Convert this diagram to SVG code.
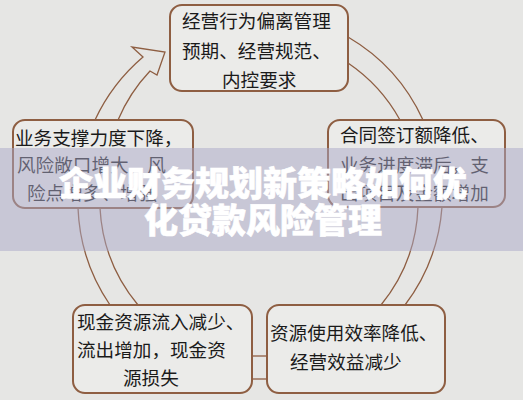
<svg xmlns="http://www.w3.org/2000/svg" width="523" height="400" viewBox="0 0 523 400">
<style>
.box{fill:#ebebe9;stroke:#8e5e42;stroke-width:2}
.t{font-family:"Noto Sans CJK SC","Noto Sans",sans-serif;font-size:18.6px;fill:#1a1a1a}
.c{fill:none;stroke:#8e5e42;stroke-width:1.3}
.title{font-family:"Noto Sans CJK SC","Noto Sans",sans-serif;font-size:34px;font-weight:900;fill:#ffffff;text-anchor:middle;stroke:#ffffff;stroke-width:0.6}
</style>
<rect x="0" y="0" width="523" height="400" fill="#e6e6e4"/>
<g id="connectors">
<path class="c" d="M95,120 A185,185 0 0 1 143,57 L132,47 L165,52 L157,75 L150,71 A165,165 0 0 0 118,120"/>
<path class="c" d="M348,37 A185,185 0 0 1 423,120"/>
<path class="c" d="M348,63 A165,165 0 0 1 400,120"/>
<path class="c" d="M442,207 A185,185 0 0 1 405,305"/>
<path class="c" d="M418,207 A165,165 0 0 1 381,305"/>
<path class="c" d="M252,356 L267,356"/>
<path class="c" d="M252,379 L267,379"/>
<path class="c" d="M110,305 A185,185 0 0 1 78,208"/>
<path class="c" d="M138,305 A165,165 0 0 1 100,208"/>
</g>
<g id="n_top">
<rect class="box" x="170" y="5" width="178" height="86" rx="12"/>
<text class="t" x="182" y="28">经营行为偏离管理</text>
<text class="t" x="182" y="58">预期、经营规范、</text>
<text class="t" x="222" y="87">内控要求</text>
</g>
<g id="n_left">
<rect class="box" x="13" y="120" width="180" height="88" rx="12"/>
<text class="t" x="15" y="145">业务支撑力度下降，</text>
<text class="t" x="17" y="172">风险敞口增大，风</text>
<text class="t" x="27" y="200">险点增多、增强</text>
</g>
<g id="n_right">
<rect class="box" x="328" y="120" width="177" height="87" rx="12"/>
<text class="t" x="340" y="142">合同签订额降低、</text>
<text class="t" x="340" y="172">业务进度滞后，支</text>
<text class="t" x="340" y="200">出项目及金额增加</text>
</g>
<g id="n_bottom_left">
<rect class="box" x="73" y="305" width="179" height="88" rx="12"/>
<text class="t" x="77" y="329">现金资源流入减少、</text>
<text class="t" x="77" y="357">流出增加，现金资</text>
<text class="t" x="123" y="385">源损失</text>
</g>
<g id="n_bottom_right">
<rect class="box" x="267" y="305" width="178" height="88" rx="12"/>
<text class="t" x="270" y="340">资源使用效率降低、</text>
<text class="t" x="290" y="369">经营效益减少</text>
</g>
<g id="overlay">
<rect x="0" y="148" width="523" height="103" fill="#aaa8c8" opacity="0.5"/>
<text class="title" x="263" y="196">企业财务规划新策略如何优</text>
<text class="title" x="263" y="233">化贷款风险管理</text>
</g>
</svg>
